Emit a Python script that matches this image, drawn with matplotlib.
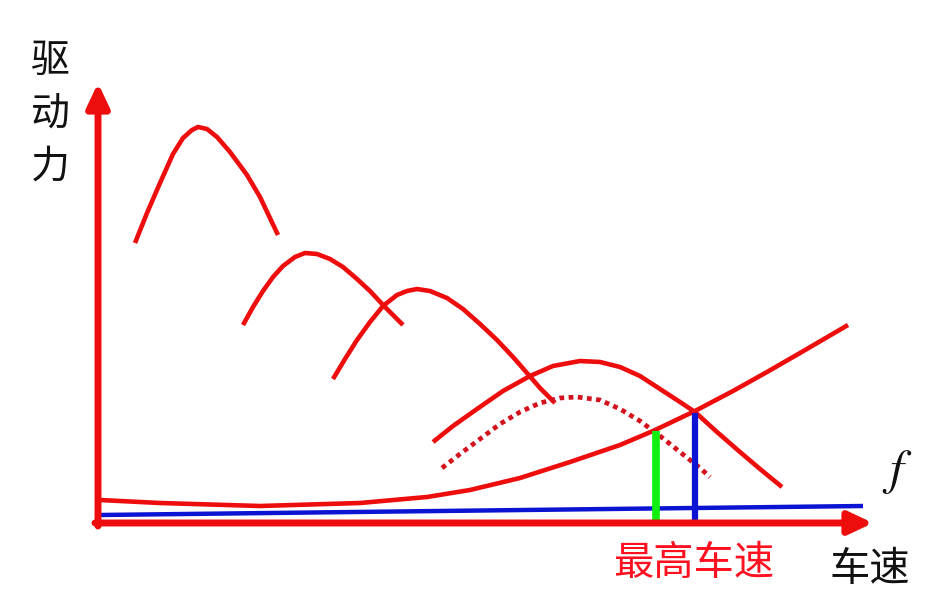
import numpy as np
import matplotlib.pyplot as plt

plt.rcParams['font.family'] = ['Noto Sans CJK SC', 'DejaVu Sans']
plt.rcParams['mathtext.fontset'] = 'stix'

# ---- data (image pixel coordinates: x right, y down) ----
gear1_x = [135, 147, 160, 173, 183, 192, 198, 207, 217, 230, 247, 260, 278]
gear1_y = [243, 213, 183, 154, 138, 130, 127, 129, 137, 152, 175, 197, 235]

gear2_x = [243, 253, 263, 273, 283, 295, 305, 317, 330, 343, 357, 370, 383, 403]
gear2_y = [325, 307, 291, 277, 266, 257, 253, 254, 259, 267, 279, 291, 305, 325]

gear3_x = [333, 345, 357, 370, 383, 397, 407, 417, 430, 447, 463, 480, 497,
           513, 527, 540, 555]
gear3_y = [379, 359, 340, 322, 306, 295, 291, 289, 291, 298, 309, 324, 340,
           357, 373, 388, 403]

gear4_x = [433, 453, 477, 503, 530, 553, 580, 600, 620, 640, 660, 680, 695,
           717, 740, 760, 782]
gear4_y = [442, 426, 409, 391, 376, 366, 361, 362, 367, 376, 389, 402, 412,
           432, 452, 469, 487]

dotted_x = [442, 460, 480, 500, 520, 540, 560, 577, 600, 620, 640, 660, 680,
            700, 710]
dotted_y = [468, 454, 439, 424, 412, 403, 398, 397, 400, 409, 421, 436, 452,
            468, 477]

resist_x = [100, 160, 260, 360, 427, 470, 520, 570, 620, 653, 695, 733, 767,
            800, 848]
resist_y = [500, 503, 506, 503, 497, 490, 478, 462, 445, 431, 411, 391, 372,
            353, 325]

blue_x = [100, 863]
blue_y = [515, 506]

v_green_x, v_green_y = 656, 431
v_blue_x, v_blue_y = 695, 413

RED = '#ee0d0d'
DOT_RED = '#d4121e'
BLUE = '#0a14d2'
GREEN = '#10f010'

fig = plt.figure(figsize=(9.45, 6.15), dpi=100)
ax = fig.add_axes([0, 0, 1, 1])
ax.set_xlim(0, 945)
ax.set_ylim(615, 0)
ax.axis('off')

# axes arrows
arrow = dict(arrowstyle='-|>,head_length=0.72,head_width=0.34', lw=5,
             color=RED, shrinkA=0, shrinkB=0, mutation_scale=20)
ax.annotate('', xy=(98, 83), xytext=(98, 526), arrowprops=arrow)
ax.annotate('', xy=(873, 523), xytext=(95, 523), arrowprops=arrow)

# resistance and horizontal line
ax.plot(blue_x, blue_y, color=BLUE, lw=3.2, solid_capstyle='butt')
ax.plot(resist_x, resist_y, color=RED, lw=3.3, solid_capstyle='butt',
        solid_joinstyle='round')

# driving force curves
for gx, gy in [(gear1_x, gear1_y), (gear2_x, gear2_y),
               (gear3_x, gear3_y), (gear4_x, gear4_y)]:
    ax.plot(gx, gy, color=RED, lw=3.3, solid_capstyle='butt',
            solid_joinstyle='round')
ax.plot(dotted_x, dotted_y, color=DOT_RED, lw=3.4, linestyle=(0, (1, 0.95)))

# vertical markers
ax.plot([v_green_x, v_green_x], [v_green_y, 523], color=GREEN, lw=5.5,
        solid_capstyle='butt')
ax.plot([v_blue_x, v_blue_x], [v_blue_y, 523], color=BLUE, lw=4.5,
        solid_capstyle='butt')

# labels
for i, ch in enumerate('驱动力'):
    ax.text(50, 61 + 53 * i, ch, fontsize=28, ha='center', va='center',
            color='#111111')
ax.text(694, 564, '最高车速', fontsize=29, ha='center', va='center', color='#ff1020')
ax.text(870, 570, '车速', fontsize=29, ha='center', va='center', color='#111111')
ax.text(897, 470, '$f$', fontsize=36, ha='center', va='center', color='#111111')

fig.savefig('out.png', dpi=100)
